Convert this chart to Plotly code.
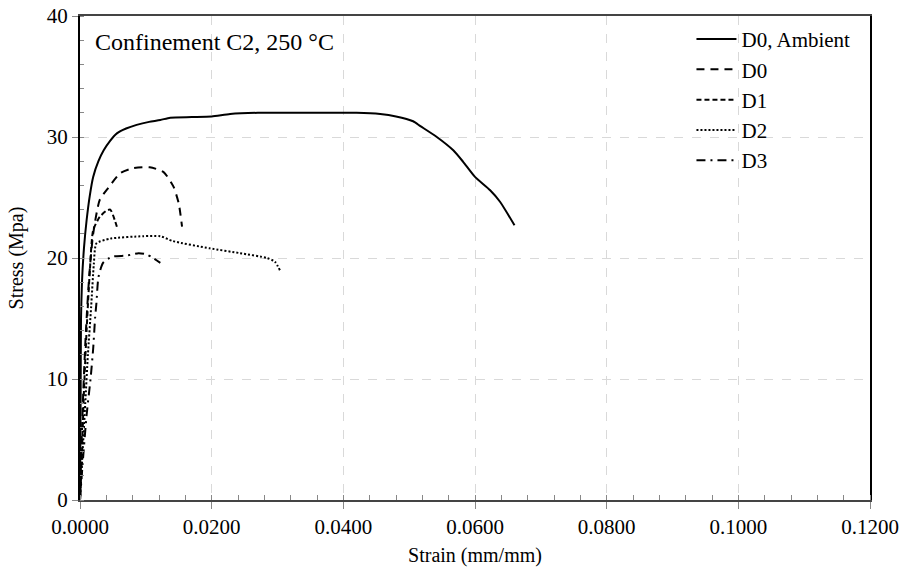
import plotly.graph_objects as go

# ---- data ----
d0amb_strain = [0, 0.00005, 0.0001, 0.00015, 0.0003, 0.0006, 0.001, 0.0015, 0.002, 0.0028, 0.0036, 0.0046,
                0.0056, 0.007, 0.0086, 0.0105, 0.0122, 0.0137, 0.017, 0.02, 0.0228, 0.027, 0.035, 0.042,
                0.0456, 0.048, 0.0506, 0.0517, 0.0542, 0.0567, 0.0582, 0.0600, 0.0623, 0.0638, 0.0660]
d0amb_stress = [0, 4, 9, 14.9, 18, 20.8, 23.1, 25.2, 26.7, 28.0, 28.9, 29.7,
                30.3, 30.7, 31.0, 31.25, 31.4, 31.6, 31.65, 31.7, 31.9, 32.0, 32.0, 32.0,
                31.9, 31.7, 31.3, 30.9, 30.0, 28.9, 27.95, 26.7, 25.6, 24.65, 22.7]

d0_strain = [0, 0.0002, 0.0005, 0.0009, 0.0014, 0.002, 0.003, 0.0043, 0.0061, 0.0079, 0.0106, 0.0127,
             0.0142, 0.0150, 0.0155]
d0_stress = [0, 4, 9, 14, 18.5, 22.0, 24.8, 25.8, 27.0, 27.4, 27.5, 27.1,
             25.9, 24.5, 22.6]

d1_strain = [0, 0.0003, 0.0006, 0.001, 0.0015, 0.002, 0.003, 0.0040, 0.0046, 0.0053, 0.0057]
d1_stress = [0, 4, 9, 14, 19, 22.3, 23.4, 23.9, 24.0, 23.1, 22.4]

d2_strain = [0, 0.0004, 0.0008, 0.0012, 0.0017, 0.0021, 0.0025, 0.0046, 0.0096, 0.0122, 0.0141,
             0.0197, 0.0243, 0.0284, 0.0296, 0.0304]
d2_stress = [0, 4, 8, 12, 16, 19.5, 21.2, 21.6, 21.8, 21.8, 21.4,
             20.8, 20.4, 20.0, 19.7, 18.95]

d3_strain = [0, 0.0004, 0.001, 0.0016, 0.002, 0.0023, 0.0025, 0.0028, 0.0035, 0.0048, 0.0071, 0.0089,
             0.0101, 0.0111, 0.0122]
d3_stress = [0, 3, 7, 10, 12.5, 15.1, 16.3, 18.4, 19.6, 20.1, 20.2, 20.4,
             20.3, 20.0, 19.6]

x_ticks = [0, 0.02, 0.04, 0.06, 0.08, 0.10, 0.12]
y_ticks = [0, 10, 20, 30, 40]

FONT = "'Liberation Serif', Tinos, 'Times New Roman', 'DejaVu Serif', serif"

series = [
    ("D0, Ambient", d0amb_strain, d0amb_stress, "solid"),
    ("D0", d0_strain, d0_stress, "8px,6px"),
    ("D1", d1_strain, d1_stress, "5px,3px"),
    ("D2", d2_strain, d2_stress, "2px,2px"),
    ("D3", d3_strain, d3_stress, "9px,5px,2px,5px"),
]

fig = go.Figure()
for name, xs, ys, dash in series:
    fig.add_trace(go.Scatter(x=xs, y=ys, mode="lines", name=name,
                             line=dict(color="black", width=2, dash=dash,
                                       shape="spline", smoothing=0.6)))

fig.update_layout(
    width=909, height=573,
    margin=dict(l=80, r=39, t=16, b=73),
    paper_bgcolor="white", plot_bgcolor="white",
    font=dict(family=FONT, size=20, color="black"),
    showlegend=True,
    legend=dict(x=0.774, y=0.994, xanchor="left", yanchor="top",
                bgcolor="rgba(0,0,0,0)", font=dict(family=FONT, size=21),
                tracegroupgap=0, itemwidth=40),
    annotations=[dict(text="Confinement C2, 250 °C", xref="paper", yref="paper",
                      x=0.017, y=0.946, xanchor="left", yanchor="middle",
                      showarrow=False, font=dict(family=FONT, size=24))],
)

fig.update_xaxes(
    range=[0, 0.12], tickvals=x_ticks, tickformat=".4f", automargin=False,
    showline=True, linecolor="#444", linewidth=2, mirror=True,
    ticks="outside", ticklen=7, tickcolor="#888",
    showgrid=True, gridcolor="#d9d9d9", griddash="dash", gridwidth=1,
    zeroline=False,
    minor=dict(ticks="inside", ticklen=5, dtick=0.004, tickcolor="#888", showgrid=False),
    title=dict(text="Strain (mm/mm)", font=dict(family=FONT, size=20), standoff=10),
    tickfont=dict(family=FONT, size=21),
)
fig.update_yaxes(
    range=[0, 40], tickvals=y_ticks, automargin=False,
    showline=True, linecolor="black", linewidth=2, mirror=True,
    ticks="outside", ticklen=6, tickcolor="#888",
    showgrid=True, gridcolor="#d9d9d9", griddash="dash", gridwidth=1,
    zeroline=False,
    minor=dict(ticks="inside", ticklen=4, dtick=2, tickcolor="#888", showgrid=False),
    title=dict(text="Stress (Mpa)", font=dict(family=FONT, size=20), standoff=18),
    tickfont=dict(family=FONT, size=21),
)

fig.write_html("out.html")
